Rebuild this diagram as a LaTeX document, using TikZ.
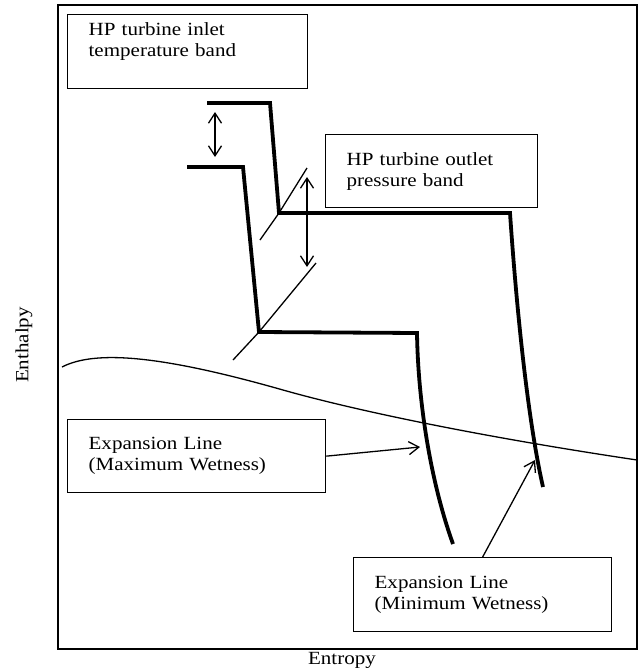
\documentclass[tikz,border=0pt]{standalone}
\usepackage{fontspec}
\setmainfont{Liberation Serif}[FakeStretch=1.13]
\usetikzlibrary{arrows.meta,calc,positioning}

\begin{document}
\begin{tikzpicture}[
  x=1pt, y=-1pt,
  >={Straight Barb[length=10pt,width=13pt]},
  every node/.style={
    font=\fontsize{18.6pt}{21pt}\selectfont
  },
  band/.style={
    draw=black,
    line width=1.3pt,
    anchor=north west,
    align=left,
    inner xsep=21pt,
    minimum height=73pt
  },
  stage/.style={
    line width=3.8pt,
    line join=miter
  },
  guide/.style={
    line width=1.3pt
  },
  pointer/.style={
    ->,
    line width=1.3pt
  }
]

\useasboundingbox (0,0) rectangle (639,672);

% Chart frame and axis names
\draw[line width=1.5pt] (58,5) rectangle (637,649);

\node (xlabel) at (342,660) {Entropy};
\node[rotate=90] (ylabel) at (24,345) {Enthalpy};

% Text boxes
\node[band, text width=198pt, inner ysep=8pt, minimum height=74pt] (inlet) at (67,14)
  {\parbox[c][58pt][t]{198pt}{HP turbine inlet\\temperature band}};

\node[band, text width=170pt] (outlet) at (325,134)
  {HP turbine outlet\\pressure band};

\node[band, text width=216pt] (maxwet) at (67,419)
  {Expansion Line\\(Maximum Wetness)};

\node[band, text width=216pt, minimum height=74pt] (minwet) at (353,557)
  {Expansion Line\\(Minimum Wetness)};

% Corner points of the two expansion lines
\coordinate (hitop)  at (207,103);
\coordinate (hicnr)  at (270,103);
\coordinate (hiout)  at (279,213);
\coordinate (hilp)   at (510,213);
\coordinate (hiend)  at (543,487);

\coordinate (lotop)  at (187,167);
\coordinate (locnr)  at (243,167);
\coordinate (loout)  at (259,332);
\coordinate (lolp)   at (417,333);
\coordinate (loend)  at (453,544);

% Minimum wetness line
\draw[stage]
  (hitop) -- (hicnr) -- (hiout) -- (hilp)
  .. controls (518,330) and (530,430) .. (hiend);

% Maximum wetness line
\draw[stage]
  (lotop) -- (locnr) -- (loout) -- (lolp)
  .. controls (418,400) and (430,480) .. (loend);

% Outlet pressure marks
\draw[guide] (260,240) -- (hiout) -- (307,168);
\draw[guide] (233,360) -- (loout) -- (316,263);

% Saturation line
\draw[guide]
  (62,367) .. controls (95,350) and (160,355) .. (283,390)
  .. controls (350,409) and (470,435) .. (637,460);

% Band arrows
\coordinate (tband1) at (215,112);
\coordinate (tband2) at (215,157);
\coordinate (pband1) at (307,177);
\coordinate (pband2) at (307,267);

\draw[pointer, <->] (tband1) -- (tband2);
\draw[pointer, <->] (pband1) -- (pband2);

% Box pointers
\coordinate (maxhit) at (420,447);
\coordinate (minhit) at (535,460);

\draw[pointer] (maxwet.east) -- (maxhit);
\draw[pointer] (minwet.north) -- (minhit);

\end{tikzpicture}
\end{document}
